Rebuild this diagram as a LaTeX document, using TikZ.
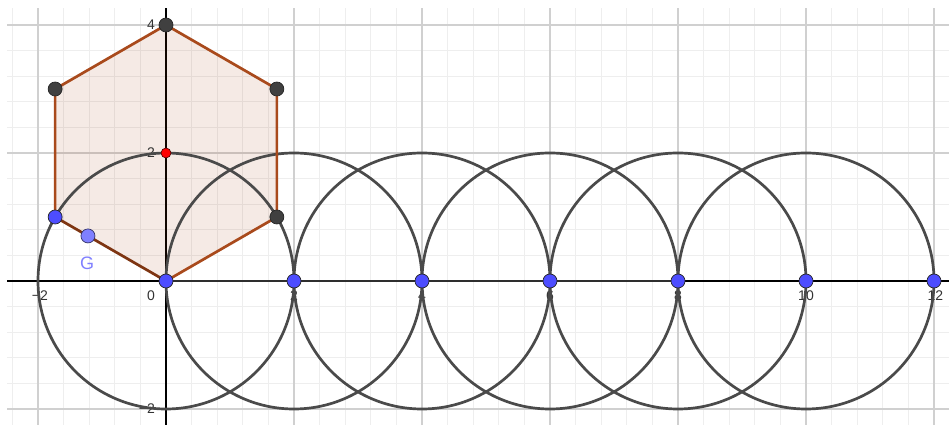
\documentclass[tikz,border=0pt]{standalone}
\usepackage{fontspec}
\setmainfont{Liberation Sans}
\usetikzlibrary{calc}
\definecolor{gridminor}{HTML}{EEEEEE}
\definecolor{gridmajor}{HTML}{D0D0D0}
\definecolor{ptblue}{HTML}{4D4DFF}
\definecolor{ptgray}{HTML}{404040}
\definecolor{hexedge}{HTML}{A94A1C}
\definecolor{hexedgedark}{HTML}{7E3512}
\definecolor{hexfillc}{HTML}{993300}
\definecolor{circ}{HTML}{4A4A4A}
\definecolor{segdark}{HTML}{2E2E2E}
\definecolor{Gblue}{HTML}{7F7FFF}
\definecolor{lbl}{HTML}{333333}
\tikzset{
  pt/.style={circle, inner sep=0pt, minimum size=14pt, draw=black!85, line width=0.7pt},
  bluept/.style={pt, fill=ptblue},
  graypt/.style={pt, fill=ptgray},
  redpt/.style={circle, inner sep=0pt, minimum size=10pt, fill=red, draw=black!70!red, line width=0.6pt},
  gpt/.style={pt, fill=Gblue, draw=black!60!Gblue},
  axlbl/.style={text=lbl, font=\fontsize{14}{16}\selectfont, inner sep=0pt},
  circline/.style={circ, line width=2.7pt},
  hexline/.style={hexedge, line width=2.7pt, line cap=round},
}
\begin{document}
\begin{tikzpicture}[x=64pt,y=64pt]
\useasboundingbox (-2.59375,-2.28125) rectangle (12.234375,4.390625);
% grid
\begin{scope}
\clip (-2.484,-2.25) rectangle (12.234375,4.266);
\draw[gridminor, line width=1pt, step=0.4] (-2.484,-2.25) grid (12.234375,4.266);
\draw[gridmajor, line width=1.3pt, step=2] (-2.484,-2.25) grid (12.234375,4.266);
\end{scope}
% axes
\draw[black, line width=1.3pt] (-2.484,0) -- (12.234375,0);
\draw[black, line width=1.3pt] (0,-2.25) -- (0,4.266);
% coordinates
\coordinate (O) at (0,0);
\coordinate (V1) at (1.7320508,1);
\coordinate (V2) at (1.7320508,3);
\coordinate (V3) at (0,4);
\coordinate (V4) at (-1.7320508,3);
\coordinate (V5) at (-1.7320508,1);
\coordinate (C) at (0,2);
% hexagon fill
\fill[hexfillc, fill opacity=0.1] (O) -- (V1) -- (V2) -- (V3) -- (V4) -- (V5) -- cycle;
% axis labels
\node[axlbl] (lxm2) at (-1.97,-0.234) {−2};
\node[axlbl] (lx0) at (-0.234,-0.234) {0};
\node[axlbl] (lx2) at (2,-0.234) {2};
\node[axlbl] (lx4) at (4,-0.234) {4};
\node[axlbl] (lx6) at (6,-0.234) {6};
\node[axlbl] (lx8) at (8,-0.234) {8};
\node[axlbl] (lx10) at (10,-0.234) {10};
\node[axlbl] (lx12) at (12.02,-0.234) {12};
\node[axlbl, anchor=east] (ly4) at (-0.17,4) {4};
\node[axlbl, anchor=east] (ly2) at (-0.17,2) {2};
\node[axlbl, anchor=east] (lym2) at (-0.17,-2) {−2};
% circles
\foreach \k in {0,2,4,6,8,10}{
  \draw[circline] (\k,0) circle[radius=2];
}
% segment along x-axis
\draw[segdark, line width=2.6pt] (O) -- (8,0);
% hexagon edges
\draw[hexline] (O) -- (V1) -- (V2) -- (V3) -- (V4) -- (V5);
\draw[hexedgedark, line width=2.7pt, line cap=round] (V5) -- (O);
% points
\node[graypt] (P1) at (V1) {};
\node[graypt] (P2) at (V2) {};
\node[graypt] (P3) at (V3) {};
\node[graypt] (P4) at (V4) {};
\node[bluept] (P5) at (V5) {};
\node[redpt] (PC) at (C) {};
\node[gpt] (G) at ($(O)!0.704!(V5)$) {};
\node[text=Gblue, font=\fontsize{18}{20}\selectfont, inner sep=0pt] (Glbl) at (-1.234,0.281) {G};
\foreach \k in {0,2,4,6,8,10,12}{
  \node[bluept] (X\k) at (\k,0) {};
}
\end{tikzpicture}
\end{document}
